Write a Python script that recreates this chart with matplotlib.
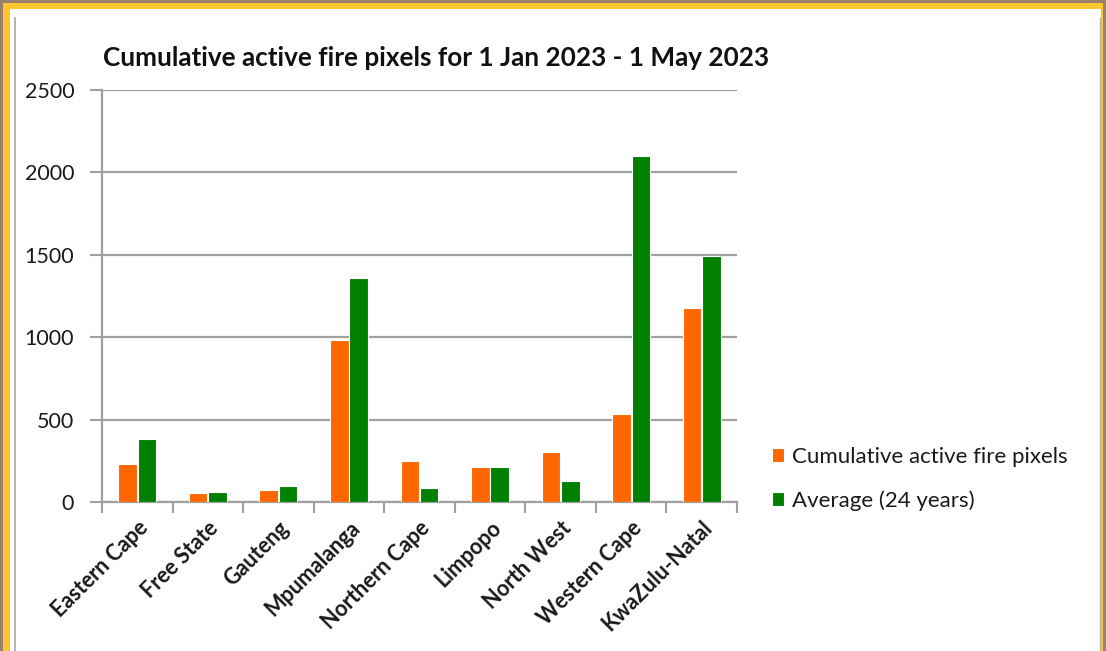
import numpy as np
import matplotlib.pyplot as plt
from matplotlib.patches import Rectangle
from matplotlib.lines import Line2D

provinces = ['Eastern Cape', 'Free State', 'Gauteng', 'Mpumalanga', 'Northern Cape',
             'Limpopo', 'North West', 'Western Cape', 'KwaZulu-Natal']
cumulative = [228, 53, 73, 983, 249, 214, 302, 532, 1179]
average = [381, 63, 95, 1360, 85, 214, 127, 2100, 1494]
yticks = [0, 500, 1000, 1500, 2000, 2500]

ORANGE = '#ff6600'
GREEN = '#008000'
GRID = '#a0a0a0'

plt.rcParams['font.family'] = ['Lato', 'DejaVu Sans']

W, H = 1106, 651
fig = plt.figure(figsize=(W / 100, H / 100), dpi=100)
fig.patch.set_facecolor('#9b8070')

def px_rect(x0, y0, x1, y1, color):
    # rectangle in pixel coords, y measured from top
    fig.add_artist(Rectangle((x0 / W, 1 - y1 / H), (x1 - x0) / W, (y1 - y0) / H,
                             transform=fig.transFigure, facecolor=color,
                             edgecolor='none', zorder=-10))

px_rect(3, 3, 1103, 660, '#fec631')
px_rect(10, 9, 1101, 660, 'white')
fig.add_artist(Line2D([15 / W, 15 / W], [0, 1 - 18 / H], transform=fig.transFigure,
                      color='#a8a8a8', lw=1.2, zorder=-5))
fig.add_artist(Line2D([1100 / W, 1100 / W], [0, 1 - 18 / H], transform=fig.transFigure,
                      color='#b0b0b0', lw=1.0, zorder=-5))

ax = fig.add_axes([102 / W, 1 - 502 / H, 635 / W, 412 / H])
ax.set_facecolor('none')

x = np.arange(len(provinces))
bw = 0.262
ax.bar(x - 0.137, cumulative, bw, color=ORANGE, edgecolor='white', linewidth=0.8,
       label='Cumulative active fire pixels', zorder=3)
ax.bar(x + 0.137, average, bw, color=GREEN, edgecolor='white', linewidth=0.8,
       label='Average (24 years)', zorder=3)

ax.set_xlim(-0.5, len(provinces) - 0.5)
ax.set_ylim(0, 2500)
ax.set_yticks(yticks)
ax.yaxis.grid(True, color=GRID, lw=1.6, zorder=0)
ax.set_axisbelow(True)

ax.set_xticks(x)
ax.set_xticklabels(provinces, rotation=45, ha='right', rotation_mode='anchor',
                   fontsize=15.5, fontweight='bold', color='#1a1a1a')
ax.set_xticks(np.arange(-0.5, len(provinces)), minor=True)
ax.tick_params(axis='x', which='major', length=0, pad=11)
ax.tick_params(axis='x', which='minor', length=8, width=1.5, color=GRID)
ax.tick_params(axis='y', length=9, width=1.5, color=GRID, labelsize=15.5, pad=11)
for lab in ax.get_yticklabels():
    lab.set_color('#1a1a1a')

for s in ['top', 'right']:
    ax.spines[s].set_visible(False)
for s in ['left', 'bottom']:
    ax.spines[s].set_color(GRID)
    ax.spines[s].set_linewidth(1.6)

fig.text(103 / W, 1 - 58 / H, 'Cumulative active fire pixels for 1 Jan 2023 - 1 May 2023',
         fontsize=18.8, fontweight='bold', va='center', ha='left', color='#111111')

leg = ax.legend(loc='upper left', bbox_to_anchor=(752 / W, 1 - 427 / H),
                bbox_transform=fig.transFigure, frameon=False,
                prop={'size': 16},
                handlelength=0.55, handleheight=0.55, handletextpad=0.35, labelspacing=1.05)
for t in leg.get_texts():
    t.set_color('#1a1a1a')

fig.savefig('out.png', dpi=100, facecolor=fig.get_facecolor())
